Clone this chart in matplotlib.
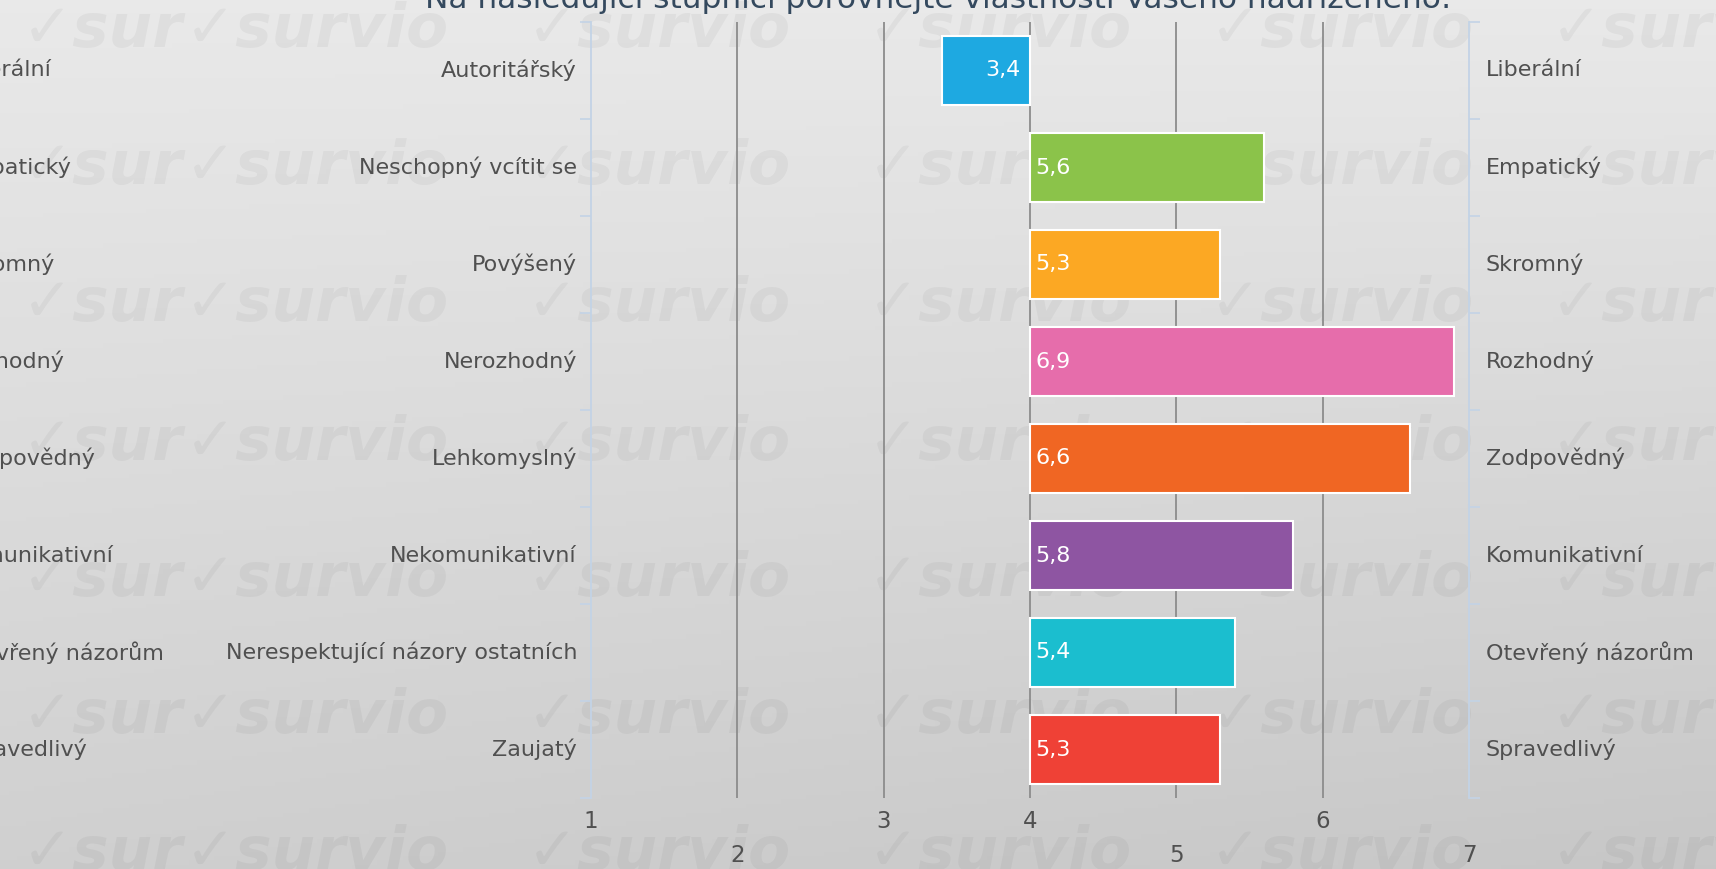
import numpy as np
import matplotlib
matplotlib.use("Agg")
import matplotlib.pyplot as plt

# ---- data ----
left_labels = ["Autoritářský", "Neschopný vcítit se", "Povýšený", "Nerozhodný",
               "Lehkomyslný", "Nekomunikativní", "Nerespektující názory ostatních", "Zaujatý"]
right_labels = ["Liberální", "Empatický", "Skromný", "Rozhodný",
                "Zodpovědný", "Komunikativní", "Otevřený názorům", "Spravedlivý"]
values = [3.4, 5.6, 5.3, 6.9, 6.6, 5.8, 5.4, 5.3]
value_labels = ["3,4", "5,6", "5,3", "6,9", "6,6", "5,8", "5,4", "5,3"]
bar_colors = ["#1ea9e1", "#8bc34a", "#fca823", "#e66dab",
              "#f06623", "#8e55a2", "#1bbecf", "#ef4136"]
tick_values = [1, 2, 3, 4, 5, 6, 7]
tick_labels = ["1", "2", "3", "4", "5", "6", "7"]
tick_lower = [False, True, False, False, True, False, True]
title = "Na následující stupnici porovnejte vlastnosti Vašeho nadřízeného:"
midpoint = 4

W, H = 1716, 869
fig = plt.figure(figsize=(W / 100, H / 100), dpi=100)
FONT = ["DejaVu Sans"]
TXT = "#505050"
FS = 16

# background gradient
bg = fig.add_axes([0, 0, 1, 1], zorder=-10)
yy, xx = np.mgrid[0:1:200j, 0:1:200j]
grad = 0.915 - 0.10 * yy - 0.035 * xx * yy
bg.imshow(np.dstack([grad, grad, grad]), extent=[0, 1, 0, 1], aspect="auto", origin="upper")
bg.set_axis_off()
bg.set_xlim(0, 1)
bg.set_ylim(0, 1)

# watermark
wm_rows = [0.965, 0.807, 0.65, 0.49, 0.333, 0.175, 0.018]
wm_cols = [0.108, 0.307, 0.506, 0.705, 0.904]
for r in wm_rows:
    bg.text(0.013, r, "✓sur", fontsize=44, fontweight="bold", style="italic",
            color="black", alpha=0.04, family=["DejaVu Sans"], va="center", ha="left")
    for c in wm_cols:
        bg.text(c, r, "✓survio", fontsize=44, fontweight="bold", style="italic",
                color="black", alpha=0.04, family=["DejaVu Sans"], va="center", ha="left")

ax_left, ax_right = 591 / W, 1469 / W
ax_top, ax_bot = 1 - 22 / H, 1 - 798 / H
ax = fig.add_axes([ax_left, ax_bot, ax_right - ax_left, ax_top - ax_bot])
ax.patch.set_alpha(0)
n = len(values)
y = np.arange(n)
ax.set_xlim(tick_values[0], tick_values[-1])
ax.set_ylim(n - 0.5, -0.5)

# gridlines
for v in tick_values[1:-1]:
    ax.axvline(v, color="#8c8c8c", lw=1.3, zorder=1)

widths = [v - midpoint for v in values]
ax.barh(y, widths, left=midpoint, height=0.71, color=bar_colors,
        edgecolor="white", linewidth=1.5, zorder=3)

for yi, v, lab in zip(y, values, value_labels):
    if v >= midpoint:
        ax.annotate(lab, (midpoint, yi), xytext=(4, 0), textcoords="offset points",
                    ha="left", va="center", color="white", fontsize=FS, family=FONT, zorder=4)
    else:
        ax.annotate(lab, (midpoint, yi), xytext=(-7, 0), textcoords="offset points",
                    ha="right", va="center", color="white", fontsize=FS, family=FONT, zorder=4)

# axes styling
for s in ["top", "bottom"]:
    ax.spines[s].set_visible(False)
for s in ["left", "right"]:
    ax.spines[s].set_color("#c3d3e6")
    ax.spines[s].set_linewidth(1.3)
ax.set_xticks([])
ax.set_yticks(np.arange(n + 1) - 0.5)
ax.tick_params(axis="y", which="both", length=8, color="#c3d3e6", width=1.2,
               left=True, right=True, labelleft=False, labelright=False)

axw = (ax_right - ax_left) * W
# category labels
ytr = ax.get_yaxis_transform()
for yi, lab in zip(y, left_labels):
    ax.text(-14 / axw, yi, lab, transform=ytr, ha="right", va="center",
            fontsize=FS, color=TXT, family=FONT)
for yi, lab in zip(y, right_labels):
    ax.text(1 + 17 / axw, yi, lab, transform=ytr, ha="left", va="center",
            fontsize=FS, color=TXT, family=FONT)

# duplicated right labels (cut by the left edge of the picture)
for yi, lab in zip(y, right_labels):
    ax.text(-(591 + 44) / axw, yi, lab, transform=ytr, ha="left",
            va="center", fontsize=FS, color=TXT, family=FONT, clip_on=False)

# x tick labels (alternating rows)
xtr = ax.get_xaxis_transform()
hax = (ax_top - ax_bot) * H
for v, lab, low in zip(tick_values, tick_labels, tick_lower):
    dy = 58 if low else 23
    ax.text(v, -dy / hax, lab, transform=xtr, ha="center", va="center",
            fontsize=16.5, color=TXT, family=FONT)

# title (cut at top)
fig.text(938 / W, 1 - 8 / H, title, ha="center", va="baseline",
         fontsize=22.5, color="#34495e", family=FONT)

fig.savefig("out.png", dpi=100)
